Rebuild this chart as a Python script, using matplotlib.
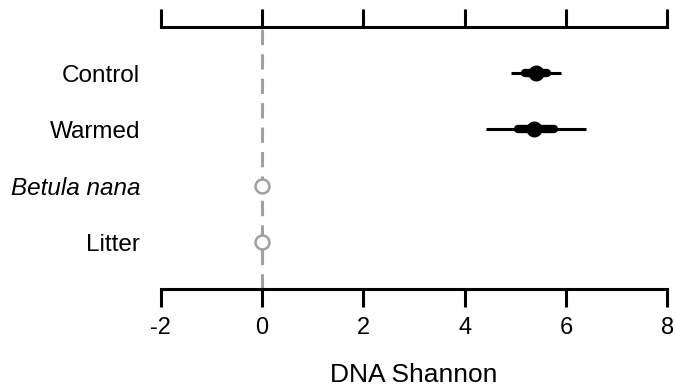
import matplotlib
matplotlib.use("Agg")
import matplotlib.pyplot as plt

plt.rcParams["font.family"] = ["Liberation Sans", "DejaVu Sans"]

labels = ["Control", "Warmed", "Betula nana", "Litter"]
means = [5.40, 5.37, 0.0, 0.0]
inner_lo = [5.20, 5.05]
inner_hi = [5.63, 5.76]
outer_lo = [4.92, 4.42]
outer_hi = [5.91, 6.39]
xticks = [-2, 0, 2, 4, 6, 8]

fig = plt.figure(figsize=(6.76, 3.86), dpi=100)
ax = fig.add_axes([0.238, 0.251, 0.749, 0.679])

ypos = [4, 3, 2, 1]

ax.axvline(0, color="#a0a0a0", linestyle=(0, (5, 3)), linewidth=2.2, zorder=1)

for i in range(2):
    y = ypos[i]
    ax.plot([outer_lo[i], outer_hi[i]], [y, y], color="black", linewidth=2.2,
            solid_capstyle="butt", zorder=2)
    ax.plot([inner_lo[i], inner_hi[i]], [y, y], color="black", linewidth=6,
            solid_capstyle="round", zorder=3)
    ax.plot(means[i], y, "o", color="black", markersize=10.5, zorder=4)

for i in range(2, 4):
    ax.plot(means[i], ypos[i], "o", markerfacecolor="white", markeredgecolor="#a0a0a0",
            markeredgewidth=1.8, markersize=10, zorder=4)

ax.set_xlim(-2, 8)
ax.set_ylim(0.167, 4.816)

ax.set_yticks(ypos)
ax.set_yticklabels(labels, fontsize=17.5)
ax.get_yticklabels()[2].set_style("italic")
ax.tick_params(axis="y", length=0, pad=15)

ax.set_xticks(xticks)
ax.set_xticklabels([str(t) for t in xticks], fontsize=17)
ax.tick_params(axis="x", which="both", length=13, width=2.2, direction="out",
               top=True, labeltop=False, pad=7)

for side in ["left", "right"]:
    ax.spines[side].set_visible(False)
for side in ["top", "bottom"]:
    ax.spines[side].set_linewidth(2.2)
    ax.spines[side].set_capstyle("projecting")

ax.set_xlabel("DNA Shannon", fontsize=19, labelpad=17)

fig.savefig("out.png", dpi=100)
